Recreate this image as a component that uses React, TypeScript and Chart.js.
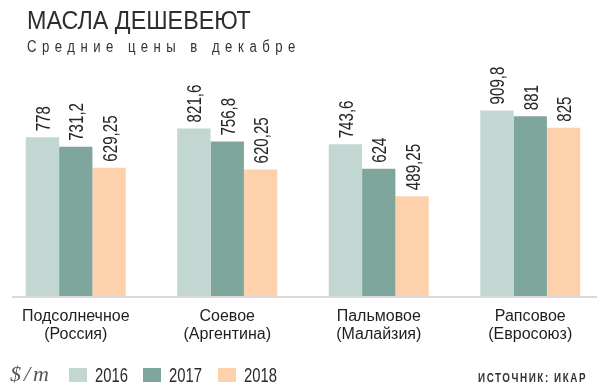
import React, { useEffect, useRef } from "react";
import { Chart, registerables } from "chart.js";

Chart.register(...registerables);

const categories: string[][] = [
  ["Подсолнечное", "(Россия)"],
  ["Соевое", "(Аргентина)"],
  ["Пальмовое", "(Малайзия)"],
  ["Рапсовое", "(Евросоюз)"],
];
const years = ["2016", "2017", "2018"];
const values2016 = [778, 821.6, 743.6, 909.8];
const values2017 = [731.2, 756.8, 624, 881];
const values2018 = [629.25, 620.25, 489.25, 825];
const colors = ["#c2d7d2", "#7fa69c", "#fdd1ac"];

const titleText = "МАСЛА ДЕШЕВЕЮТ";
const subtitleText = "Средние цены в декабре";
const unitText = "$/m";
const sourceText = "ИСТОЧНИК: ИКАР";

const fmt = (v: number) => String(v).replace(".", ",");

function drawText(
  ctx: CanvasRenderingContext2D,
  text: string,
  x: number,
  y: number,
  font: string,
  color: string,
  sx: number,
  spacing = 0
) {
  ctx.save();
  ctx.translate(x, y);
  ctx.scale(sx, 1);
  ctx.font = font;
  (ctx as any).letterSpacing = spacing + "px";
  ctx.fillStyle = color;
  ctx.textAlign = "left";
  ctx.textBaseline = "alphabetic";
  ctx.fillText(text, 0, 0);
  ctx.restore();
}

const decorPlugin = {
  id: "decor",
  afterDraw(chart: any) {
    const ctx: CanvasRenderingContext2D = chart.ctx;
    const area = chart.chartArea;
    ctx.save();
    // baseline
    ctx.strokeStyle = "#dadada";
    ctx.lineWidth = 2;
    ctx.beginPath();
    ctx.moveTo(12, area.bottom + 1);
    ctx.lineTo(597, area.bottom + 1);
    ctx.stroke();

    // value labels
    chart.data.datasets.forEach((ds: any, di: number) => {
      const meta = chart.getDatasetMeta(di);
      meta.data.forEach((bar: any, i: number) => {
        const txt = fmt(ds.data[i]);
        ctx.save();
        ctx.translate(bar.x, bar.y - 6);
        ctx.rotate(-Math.PI / 2);
        ctx.scale(0.72, 1);
        ctx.font = '21px "Liberation Sans"';
        ctx.fillStyle = "#262626";
        ctx.textAlign = "left";
        ctx.textBaseline = "alphabetic";
        ctx.fillText(txt, 0, 7.5);
        ctx.restore();
      });
    });

    // title & subtitle
    drawText(ctx, titleText, 27, 29, '26.5px "Liberation Sans"', "#2e2e2e", 0.88);
    drawText(ctx, subtitleText, 27, 52, '16px "Liberation Sans"', "#333333", 0.82, 6.7);

    // legend
    drawText(ctx, unitText, 10, 381, 'italic 22px "Liberation Serif"', "#555555", 1, 3);
    const swX = [69, 143, 218];
    chart.data.datasets.forEach((ds: any, di: number) => {
      ctx.fillStyle = ds.backgroundColor;
      ctx.fillRect(swX[di], 368, 18, 14);
      drawText(ctx, ds.label, swX[di] + 26, 382, '19.5px "Liberation Sans"', "#2a2a2a", 0.76);
    });

    // source
    drawText(ctx, sourceText, 478, 382, 'bold 12px "Liberation Sans"', "#333333", 0.82, 1.9);
    ctx.restore();
  },
};

export default function App() {
  const ref = useRef<HTMLCanvasElement | null>(null);
  useEffect(() => {
    if (!ref.current) return;
    const chart = new Chart(ref.current, {
      type: "bar",
      data: {
        labels: categories,
        datasets: [values2016, values2017, values2018].map((d, i) => ({
          label: years[i],
          data: d,
          backgroundColor: colors[i],
          borderWidth: 0,
          categoryPercentage: 0.66,
          barPercentage: 1.0,
        })),
      },
      options: {
        responsive: false,
        animation: false,
        devicePixelRatio: 1,
        layout: { padding: { top: 92, left: 0, right: 0, bottom: 0 } },
        plugins: {
          legend: { display: false },
          title: { display: false },
          tooltip: { enabled: false },
        },
        scales: {
          x: {
            grid: { display: false, drawTicks: false },
            border: { display: false },
            ticks: {
              padding: 11,
              color: "#1e1e1e",
              font: { family: '"Liberation Sans"', size: 16, lineHeight: 1.15 },
              maxRotation: 0,
              autoSkip: false,
            },
            afterFit: (scale: any) => {
              scale.height = 92;
            },
          },
          y: {
            display: false,
            min: 0,
            max: 1000,
          },
        },
      },
      plugins: [decorPlugin],
    });
    return () => chart.destroy();
  }, []);
  return (
    <div
      style={{
        position: "fixed",
        left: 0,
        top: 0,
        width: 600,
        height: 388,
        overflow: "hidden",
        background: "#ffffff",
      }}
    >
      <canvas ref={ref} width={606} height={388} style={{ width: 606, height: 388, display: "block" }} />
    </div>
  );
}
